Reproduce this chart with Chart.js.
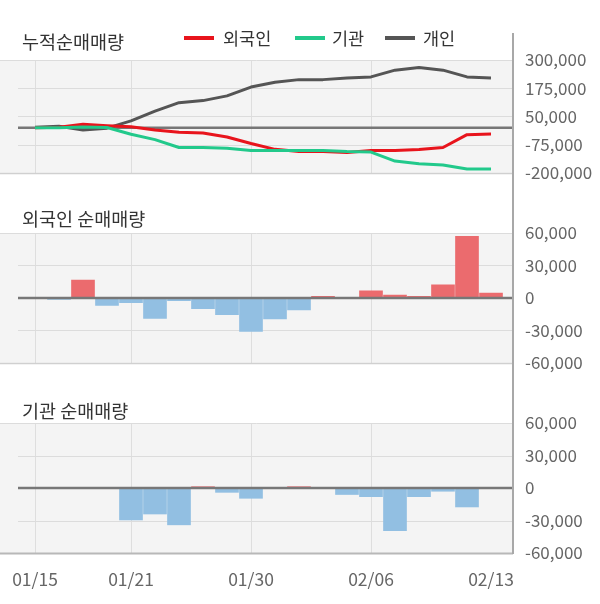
<!DOCTYPE html>
<html>
<head>
<meta charset="utf-8">
<script src="https://cdn.jsdelivr.net/npm/chart.js@4"></script>
<style>
  body { margin: 0; background: #fff; font-family: "Noto Sans CJK KR", "Noto Sans", sans-serif; }
  #wrap { position: relative; width: 600px; height: 604px; overflow: hidden; }
  canvas { position: absolute; left: 0; }
  .title { position: absolute; left: 22px; font-size: 18.5px; line-height: 22px; color: #333; }
  .leg { position: absolute; top: 27px; font-size: 17.5px; line-height: 22px; color: #333; }
  .sw { position: absolute; top: 36px; width: 30px; height: 4px; }
  #axisLine { position: absolute; left: 512px; top: 33px; width: 2px; height: 521px; background: #a8a8a8; z-index: 5; }
</style>
</head>
<body>
<div id="wrap">
  <canvas id="cum" width="600" height="195" style="top:0"></canvas>
  <canvas id="frg" width="600" height="190" style="top:195px"></canvas>
  <canvas id="ins" width="600" height="219" style="top:385px"></canvas>

  <div class="title" style="top:30px">누적순매매량</div>
  <div class="title" style="top:207px">외국인 순매매량</div>
  <div class="title" style="top:399px">기관 순매매량</div>

  <div class="sw" style="left:184px;background:#e8141c"></div><div class="leg" style="left:223px">외국인</div>
  <div class="sw" style="left:295px;background:#22c98b"></div><div class="leg" style="left:332px">기관</div>
  <div class="sw" style="left:385px;background:#555"></div><div class="leg" style="left:423px">개인</div>

  <div id="axisLine"></div>
</div>
<script>
const dates = ['01/15','01/16','01/17','01/20','01/21','01/22','01/23','01/28','01/29','01/30',
               '01/31','02/03','02/04','02/05','02/06','02/07','02/10','02/11','02/12','02/13'];
const dateTicks = [0, 4, 9, 14, 19];

// cumulative net buying
const foreignCum = [0, 2000, 15000, 9000, 4000, -10000, -20000, -24000, -41000, -70000,
                    -96000, -106000, -106000, -110000, -101000, -101000, -97000, -88000, -31000, -28500];
const instCum = [0, 0, 3000, 1000, -29000, -53000, -88000, -88000, -91000, -101000,
                 -101000, -101000, -101000, -106000, -108000, -148000, -160000, -165000, -183000, -183000];
const indivCum = [2000, 6000, -10000, -2000, 30000, 73000, 111000, 120000, 141000, 180000,
                  201000, 213000, 213000, 220000, 225000, 255000, 267000, 255000, 225000, 220000];

// daily net buying
const foreignDaily = [0, -1500, 16500, -7000, -4500, -19000, -2500, -10000, -15500, -31000,
                      -19500, -11000, 1500, 0, 6500, 2500, 1500, 12000, 57000, 4500];
const instDaily = [0, 0, 0, 0, -29500, -24000, -34000, 1200, -4000, -9500,
                   0, 1200, 0, -6000, -8000, -39500, -8000, -3000, -17500, 0];

const cumTicks = [-200000, -75000, 50000, 175000, 300000];
const dailyTicks = [-60000, -30000, 0, 30000, 60000];

const FONT = '"Noto Sans CJK KR", "Noto Sans", sans-serif';
const pts = arr => arr.map((v, i) => ({ x: i, y: v }));

const panelPlugin = {
  id: 'panel',
  beforeDraw(chart) {
    const { ctx, chartArea: a } = chart;
    ctx.save();
    ctx.fillStyle = '#f4f4f4';
    ctx.fillRect(a.left, a.top, a.right - a.left, a.bottom - a.top);
    ctx.restore();
  },
  beforeDatasetsDraw(chart, args, opts) {
    const { ctx, chartArea: a } = chart;
    const ys = chart.scales.y;
    ctx.save();
    ys.ticks.forEach((t, i) => {
      if (t.value === 0) return;
      const py = Math.round(ys.getPixelForValue(t.value)) + 0.5;
      const edge = i === 0 || i === ys.ticks.length - 1;
      ctx.strokeStyle = (i === 0) ? opts.bottomColor : '#dcdcdc';
      ctx.lineWidth = (i === 0) ? opts.bottomWidth : 1;
      ctx.beginPath();
      ctx.moveTo(edge ? a.left : 18, py);
      ctx.lineTo(a.right, py);
      ctx.stroke();
    });
    ctx.restore();
    if (!opts.zeroOnTop) drawZero(chart);
  },
  afterDatasetsDraw(chart, args, opts) {
    if (opts.zeroOnTop) drawZero(chart);
  }
};

function drawZero(chart) {
  const { ctx, chartArea: a } = chart;
  const py = chart.scales.y.getPixelForValue(0);
  ctx.save();
  ctx.strokeStyle = '#777';
  ctx.lineWidth = 2.5;
  ctx.beginPath();
  ctx.moveTo(18, py);
  ctx.lineTo(a.right, py);
  ctx.stroke();
  ctx.restore();
}

function baseOptions(p) {
  return {
    responsive: false,
    animation: false,
    devicePixelRatio: 1,
    layout: { padding: { top: p.padTop, left: 0, right: 0, bottom: 0 } },
    plugins: {
      legend: { display: false },
      tooltip: { enabled: false },
      panel: { zeroOnTop: p.zeroOnTop, bottomColor: p.bottomColor, bottomWidth: p.bottomWidth }
    },
    scales: {
      x: {
        type: 'linear',
        offset: false,
        min: -35 / 24,
        max: (513 - 35) / 24,
        afterBuildTicks: s => { s.ticks = dateTicks.map(v => ({ value: v })); },
        afterFit: s => { s.height = p.xHeight; s.paddingLeft = 0; s.paddingRight = 0; },
        border: { display: false },
        grid: {
          offset: false,
          drawTicks: false,
          color: c => (c.tick && c.tick.value === 19) ? 'rgba(0,0,0,0)' : '#dedede'
        },
        ticks: {
          display: p.showDates,
          autoSkip: false,
          maxRotation: 0,
          padding: 16,
          color: '#666',
          font: { family: FONT, size: 17.5 },
          callback: v => dates[v]
        }
      },
      y: {
        position: 'right',
        min: p.ticks[0],
        max: p.ticks[p.ticks.length - 1],
        afterBuildTicks: s => { s.ticks = p.ticks.map(v => ({ value: v })); },
        afterFit: s => { s.width = 600 - 513; },
        border: { display: false },
        grid: { display: false, drawTicks: false },
        ticks: {
          padding: 12,
          color: '#666',
          font: { family: FONT, size: 17 },
          callback: v => Number(v).toLocaleString('en-US')
        }
      }
    }
  };
}

new Chart(document.getElementById('cum'), {
  type: 'line',
  data: {
    datasets: [
      { label: '기관', data: pts(instCum), borderColor: '#22c98b', borderWidth: 3, pointRadius: 0, tension: 0, borderJoinStyle: 'round' },
      { label: '외국인', data: pts(foreignCum), borderColor: '#e8141c', borderWidth: 3, pointRadius: 0, tension: 0, borderJoinStyle: 'round' },
      { label: '개인', data: pts(indivCum), borderColor: '#555555', borderWidth: 3, pointRadius: 0, tension: 0, borderJoinStyle: 'round' }
    ]
  },
  options: baseOptions({ padTop: 60, xHeight: 18, showDates: false, ticks: cumTicks, zeroOnTop: false, bottomColor: '#d0d0d0', bottomWidth: 1.5 }),
  plugins: [panelPlugin]
});

function barColors(arr) {
  return arr.map(v => v >= 0 ? '#eb6b6e' : '#92bfe2');
}

new Chart(document.getElementById('frg'), {
  type: 'bar',
  data: {
    datasets: [{ label: '외국인', data: pts(foreignDaily), backgroundColor: barColors(foreignDaily), barThickness: 23, borderWidth: 0 }]
  },
  options: baseOptions({ padTop: 38, xHeight: 20, showDates: false, ticks: dailyTicks, zeroOnTop: true, bottomColor: '#d0d0d0', bottomWidth: 1.5 }),
  plugins: [panelPlugin]
});

new Chart(document.getElementById('ins'), {
  type: 'bar',
  data: {
    datasets: [{ label: '기관', data: pts(instDaily), backgroundColor: barColors(instDaily), barThickness: 23, borderWidth: 0 }]
  },
  options: baseOptions({ padTop: 38, xHeight: 51, showDates: true, ticks: dailyTicks, zeroOnTop: true, bottomColor: '#b8b8b8', bottomWidth: 2 }),
  plugins: [panelPlugin]
});
</script>
</body>
</html>
